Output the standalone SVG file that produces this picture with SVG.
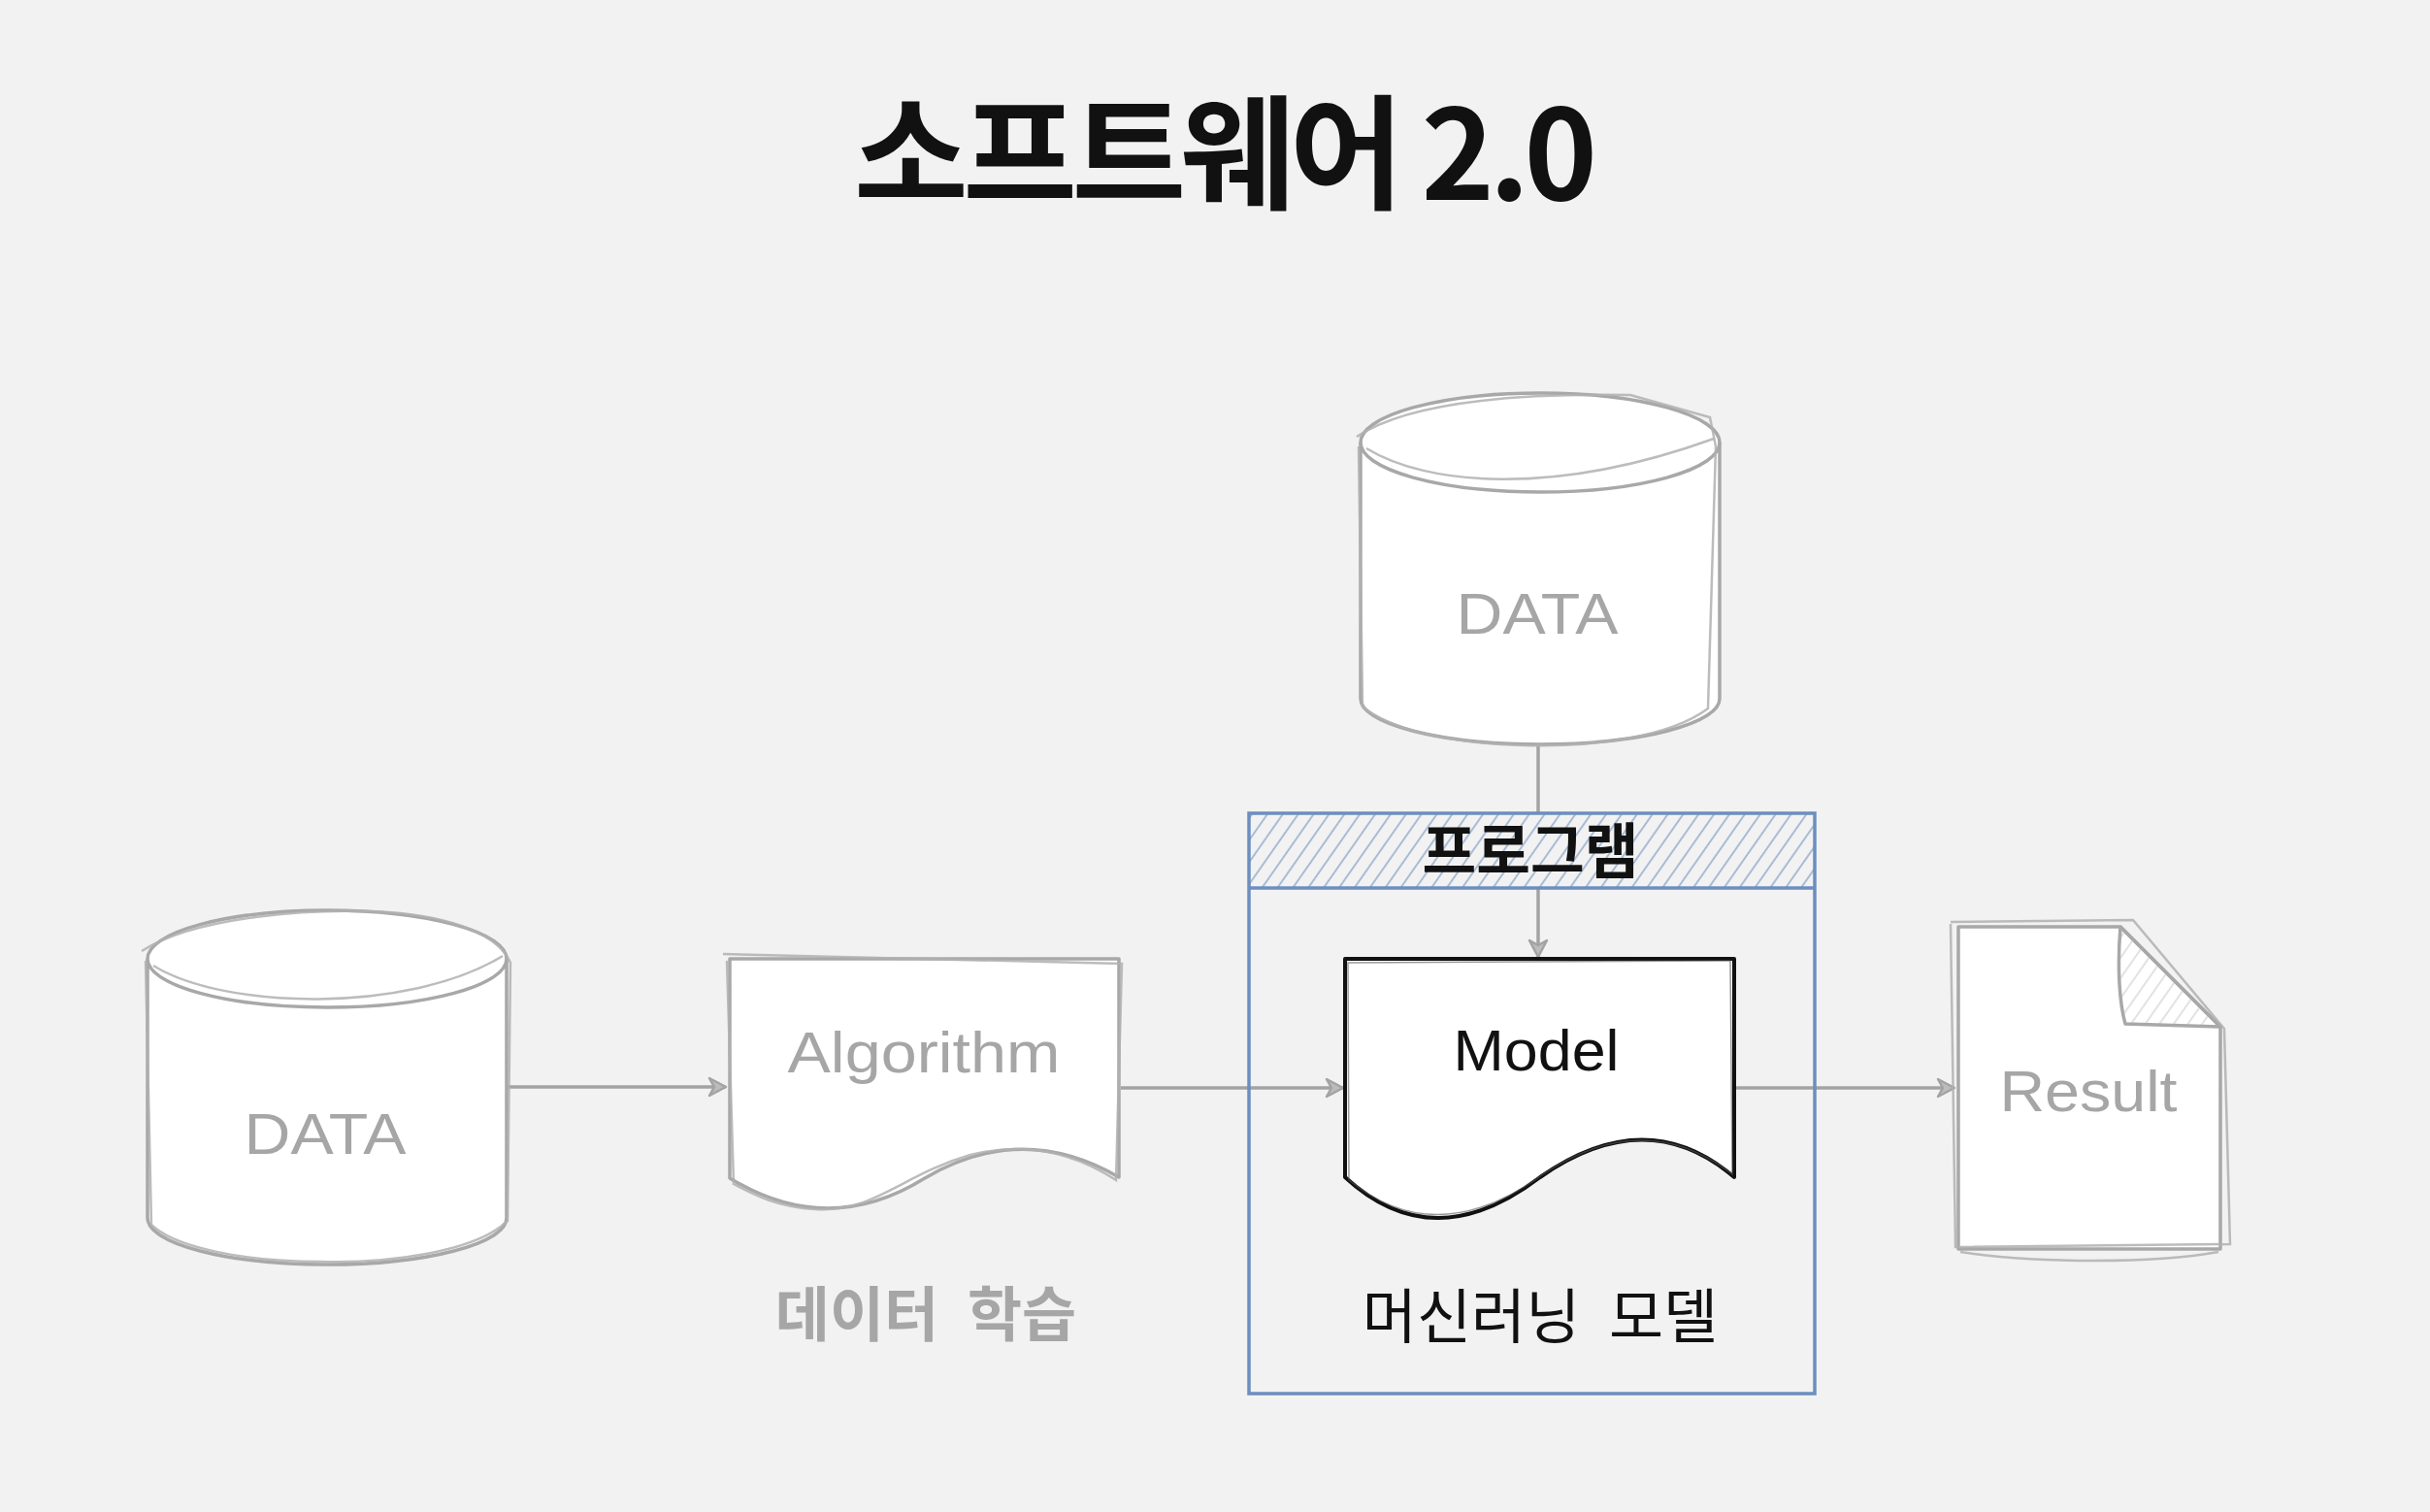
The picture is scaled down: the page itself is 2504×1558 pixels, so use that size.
<svg xmlns="http://www.w3.org/2000/svg" width="2504" height="1558" viewBox="0 0 2504 1558">
<defs>
<style>
.bg{fill:#f2f2f2}
.gshape{fill:#ffffff;stroke:#a8a8a8;stroke-width:3.5;stroke-linejoin:round}
.gsketch{fill:none;stroke:#b0b0b0;stroke-width:2.5;opacity:0.85}
.gline{fill:none;stroke:#a8a8a8;stroke-width:3.5}
.conn{fill:none;stroke:#a3a3a3;stroke-width:3.5}
.gtext{font-family:"Liberation Sans",Arial,sans-serif;font-size:60px;fill:#a6a6a6;text-anchor:middle}
.btext{font-family:"Liberation Sans",Arial,sans-serif;font-size:60px;fill:#111111;text-anchor:middle}
.kr{font-family:"Noto Sans CJK KR","Noto Sans",sans-serif;text-anchor:middle}
.blue{fill:none;stroke:#6c8ebf;stroke-width:3.5}
</style>
<pattern id="hatch" patternUnits="userSpaceOnUse" width="13" height="13" patternTransform="rotate(35)">
<line x1="4" y1="0" x2="4" y2="13" stroke="#a9bcd4" stroke-width="2"/>
</pattern>
<pattern id="hatchGrey" patternUnits="userSpaceOnUse" width="12" height="12" patternTransform="rotate(35)">
<line x1="4" y1="0" x2="4" y2="12" stroke="#e2e2e2" stroke-width="2"/>
</pattern>
<marker id="arr" markerUnits="userSpaceOnUse" markerWidth="24" markerHeight="24" refX="20" refY="12" orient="auto">
<path d="M3,3 L20,12 L3,21 L8,12 Z" fill="#bcbcbc" stroke="#a3a3a3" stroke-width="2.5" stroke-linejoin="round"/>
</marker>
</defs>
<rect class="bg" x="0" y="0" width="2504" height="1558"/>

<text id="title" class="kr" x="1263" y="206" font-size="128" font-weight="700" fill="#111111" textLength="766" lengthAdjust="spacing">소프트웨어 2.0</text>

<g id="connectors">
<path class="conn" d="M522,1120 L748,1120" marker-end="url(#arr)"/>
<path class="conn" d="M1155,1121 L1384,1121" marker-end="url(#arr)"/>
<path class="conn" d="M1787,1121 L2014,1121" marker-end="url(#arr)"/>
<path class="conn" d="M1585,767 L1585,986" marker-end="url(#arr)"/>
</g>

<g id="data-left">
<path class="gshape" d="M152,988 A185,50 0 0 1 522,988 V1255 A185,48 0 0 1 152,1255 Z"/>
<path class="gline" d="M152,988 A185,50 0 0 0 522,988"/>
<path class="gsketch" d="M146,980 C200,945 320,935 400,940 C470,945 515,965 526,992 L523,1258 C490,1290 400,1302 330,1300 C250,1300 180,1285 156,1262 L150,990"/>
<path class="gsketch" d="M158,995 C230,1040 420,1045 518,985"/>
<text class="gtext" x="335" y="1189" textLength="167" lengthAdjust="spacingAndGlyphs">DATA</text>
</g>

<g id="algorithm">
<path class="gshape" d="M752,988 H1153 V1213 Q1053,1155 953,1214 Q853,1276 752,1214 Z"/>
<path class="gsketch" d="M745,983 L1156,993 L1150,1216 C1110,1190 1060,1175 1000,1190 C930,1210 900,1250 840,1246 C800,1244 775,1230 756,1220 L749,990"/>
<text class="gtext" x="952" y="1105" font-size="62" textLength="281" lengthAdjust="spacingAndGlyphs">Algorithm</text>
<text class="kr" x="954" y="1377" font-size="61" font-weight="700" fill="#a6a6a6" word-spacing="16">데이터 학습</text>
</g>

<g id="program">
<rect x="1287" y="838" width="583" height="77" fill="#f2f2f2"/>
<rect x="1287" y="838" width="583" height="77" fill="url(#hatch)"/>
<rect class="blue" x="1287" y="838" width="583" height="598"/>
<line class="blue" x1="1287" y1="915" x2="1870" y2="915"/>
<text class="kr" x="1577" y="900" font-size="62" font-weight="700" fill="#111111" textLength="223" lengthAdjust="spacingAndGlyphs">프로그램</text>
<text class="kr" x="1587" y="1379" font-size="61" font-weight="400" fill="#111111" word-spacing="16">머신러닝 모델</text>
</g>

<g id="model">
<path d="M1386,988 H1787 V1213 Q1697,1136 1587,1213 Q1477,1297 1386,1213 Z" fill="#ffffff" stroke="#111111" stroke-width="4" stroke-linejoin="round"/>
<path d="M1389,992 L1783,990 L1785,1210 Q1695,1140 1590,1210 Q1480,1290 1390,1216 Z" fill="none" stroke="#555555" stroke-width="1.5" opacity="0.6"/>
<text class="btext" x="1583" y="1103" textLength="171" lengthAdjust="spacingAndGlyphs">Model</text>
</g>

<g id="data-top">
<path class="gshape" d="M1402,456 A185,51 0 0 1 1772,456 V720 A185,47 0 0 1 1402,720 Z"/>
<path class="gline" d="M1402,456 A185,51 0 0 0 1772,456"/>
<path class="gsketch" d="M1398,450 C1450,415 1560,405 1680,407 L1762,430 L1768,460 L1760,730 C1720,760 1640,770 1570,768 C1490,766 1430,750 1404,728 L1400,460"/>
<path class="gsketch" d="M1408,462 C1470,500 1600,512 1766,452"/>
<text class="gtext" x="1584" y="653" textLength="167" lengthAdjust="spacingAndGlyphs">DATA</text>
</g>

<g id="result">
<path class="gshape" d="M2018,955 H2185 L2288,1058 V1287 H2018 Z"/>
<path d="M2185,955 C2182,990 2183,1030 2190,1055 L2288,1058 Z" fill="url(#hatchGrey)" stroke="#a8a8a8" stroke-width="3.5" stroke-linejoin="round"/>
<path class="gsketch" d="M2010,950 L2198,948 L2292,1060 L2298,1282 L2015,1285 L2010,952"/>
<path class="gsketch" d="M2020,1290 C2100,1302 2220,1302 2286,1290"/>
<text class="gtext" x="2152" y="1145" textLength="183" lengthAdjust="spacingAndGlyphs">Result</text>
</g>
</svg>
